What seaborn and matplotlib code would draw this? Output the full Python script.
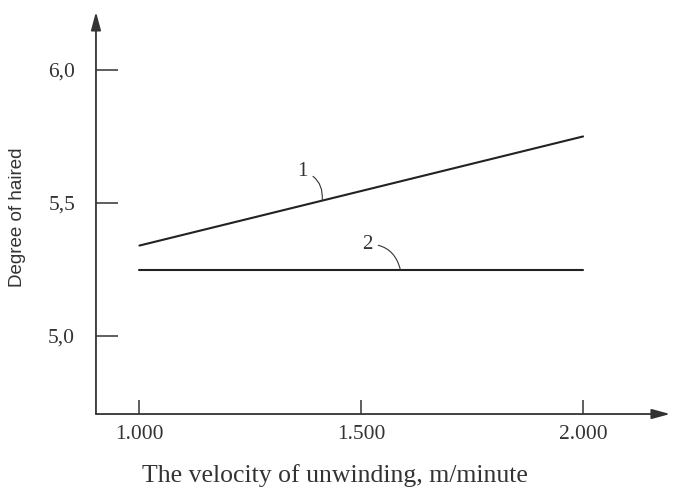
"""
Degree of haired vs velocity of unwinding
"""

import numpy as np
import pandas as pd
import matplotlib.pyplot as plt
import seaborn as sns

sns.set_style("white")

plt.rcParams["font.family"] = ["Liberation Serif", "DejaVu Serif"]

# data
velocity = [1000, 2000]
haired_1 = [5.34, 5.75]
haired_2 = [5.25, 5.25]

x_ticks = [1000, 1500, 2000]
x_tick_labels = ["1.000", "1.500", "2.000"]
y_ticks = [5.0, 5.5, 6.0]
y_tick_labels = ["5,0", "5,5", "6,0"]

df = pd.DataFrame({
    "velocity": velocity * 2,
    "haired": haired_1 + haired_2,
    "curve": ["1", "1", "2", "2"],
})

AXIS_COLOR = "#333333"
LINE_COLOR = "#222222"

########################################################

fig = plt.figure(figsize=(6.73, 4.88), dpi=100)

ax = fig.add_axes([0.1426, 0.1516, 0.853, 0.824])

sns.lineplot(
    data=df,
    x="velocity",
    y="haired",
    units="curve",
    estimator=None,
    color=LINE_COLOR,
    linewidth=1.5,
    ax=ax,
)

ax.set_xlim(902, 2196)
ax.set_ylim(4.707, 6.218)

for side in ["top", "right", "left", "bottom"]:
    ax.spines[side].set_visible(False)

# axis lines with arrow heads
arrow = dict(
    arrowstyle="-|>,head_length=1.1,head_width=0.3",
    color=AXIS_COLOR,
    lw=1.3,
    shrinkA=0,
    shrinkB=0,
)

ax.annotate("", xy=(1, 0), xytext=(0, 0),
            xycoords="axes fraction", arrowprops=arrow)
ax.annotate("", xy=(0, 1), xytext=(0, 0),
            xycoords="axes fraction", arrowprops=arrow)

ax.set_xticks(x_ticks)
ax.set_xticklabels(x_tick_labels)
ax.set_yticks(y_ticks)
ax.set_yticklabels(y_tick_labels)

ax.tick_params(axis="x", direction="in", length=10, width=1.1,
               color=AXIS_COLOR, pad=8, labelsize=15.5, labelcolor="#333333")
ax.tick_params(axis="y", direction="in", length=16, width=1.1,
               color=AXIS_COLOR, pad=15, labelsize=15.5, labelcolor="#333333")
ax.tick_params(bottom=True, left=True)

ax.set_xlabel("The velocity of unwinding, m/minute",
              fontsize=18.5, color="#333333")
ax.xaxis.set_label_coords(0.416, -0.124)

ax.set_ylabel("Degree of haired", fontsize=13.5, color="#333333",
              family=["Liberation Sans", "DejaVu Sans"])
ax.yaxis.set_label_coords(-0.122, 0.49)

ax.grid(False)

# curve numbers with leader arcs
leader = dict(arrowstyle="-", color=AXIS_COLOR, lw=0.8,
              connectionstyle="arc3,rad=-0.4", shrinkA=2, shrinkB=0)

ax.annotate("1", xy=(1412, 5.51), xytext=(1367, 5.62),
            fontsize=15, color="#333333", ha="center", va="center",
            arrowprops=leader)
ax.annotate("2", xy=(1588, 5.25), xytext=(1513, 5.345),
            fontsize=15, color="#333333", ha="center", va="center",
            arrowprops=leader)

plt.savefig("out.png", dpi=100)

plt.close()
